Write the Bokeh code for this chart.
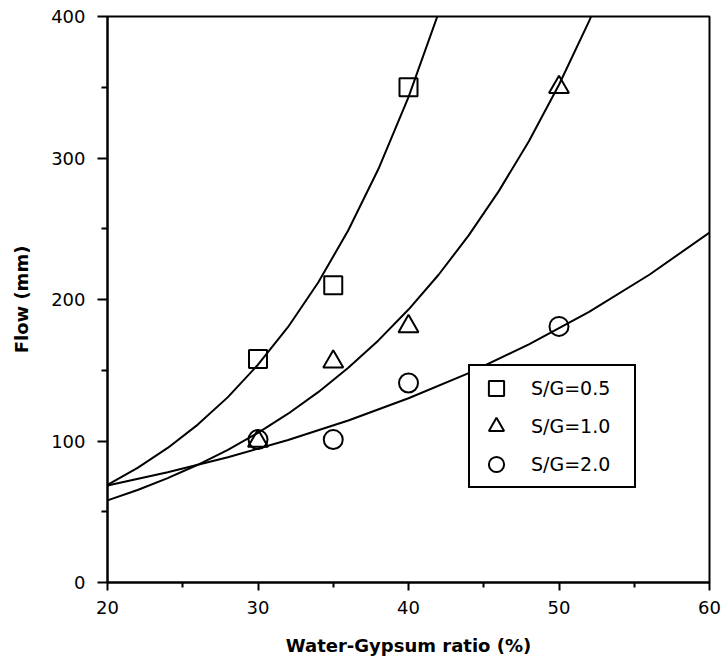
from bokeh.plotting import figure
from bokeh.models import FixedTicker, Range1d, Legend, LegendItem
from bokeh.embed import file_html
from bokeh.resources import INLINE

# Measured points
sq_x = [30, 35, 40]
sq_y = [158, 210, 350]
tri_x = [30, 35, 40, 50]
tri_y = [100, 156, 181, 350]
cir_x = [30, 35, 40, 50]
cir_y = [101, 101, 141, 181]

# Fitted curves
fit1_x = [20, 22, 24, 26, 28, 30, 32, 34, 36, 38, 40, 42, 44]
fit1_y = [69.0, 81.0, 95.1, 111.6, 131.0, 153.9, 180.6, 212.0, 248.9, 292.2, 343.0, 402.6, 472.0]
fit2_x = [20, 22, 24, 26, 28, 30, 32, 34, 36, 38, 40, 42, 44, 46, 48, 50, 52, 54]
fit2_y = [58.0, 65.4, 73.8, 83.2, 93.8, 105.8, 119.3, 134.5, 151.7, 171.1, 192.9, 217.5, 245.3, 276.6, 311.9, 351.8, 396.7, 447.4]
fit3_x = [20, 24, 28, 32, 36, 40, 44, 48, 52, 56, 60]
fit3_y = [68.5, 77.9, 88.5, 100.7, 114.5, 130.2, 148.0, 168.3, 191.3, 217.5, 247.3]

x_ticks = [20, 30, 40, 50, 60]
x_minor = [25, 35, 45, 55]
y_ticks = [0, 100, 200, 300, 400]
y_minor = [50, 150, 250, 350]

labels = ["S/G=0.5", "S/G=1.0", "S/G=2.0"]

p = figure(width=725, height=665, output_backend="svg", toolbar_location=None,
           x_range=Range1d(20, 60), y_range=Range1d(0, 400),
           min_border_left=107, min_border_right=16, min_border_top=16, min_border_bottom=83)

p.grid.visible = False
p.outline_line_color = "black"
p.outline_line_width = 2
p.outline_line_alpha = 1
p.background_fill_color = "white"

FONT = "DejaVu Sans"
for ax in (p.xaxis[0], p.yaxis[0]):
    ax.axis_line_width = 2
    ax.major_tick_line_width = 2
    ax.minor_tick_line_width = 2
    ax.major_tick_in = 0
    ax.minor_tick_in = 0
    ax.major_label_text_font = FONT
    ax.major_label_text_font_size = "18px"
    ax.major_label_text_color = "black"
    ax.axis_label_text_font = FONT
    ax.axis_label_text_font_style = "bold"
    ax.axis_label_text_font_size = "18px"
    ax.axis_label_text_color = "black"

p.xaxis.ticker = FixedTicker(ticks=x_ticks, minor_ticks=x_minor)
p.yaxis.ticker = FixedTicker(ticks=y_ticks, minor_ticks=y_minor)
p.xaxis.major_tick_out = 8
p.xaxis.minor_tick_out = 5
p.yaxis.major_tick_out = 10
p.yaxis.minor_tick_out = 6
p.xaxis.major_label_standoff = 10
p.yaxis.major_label_standoff = 12
p.xaxis.axis_label = "Water-Gypsum ratio (%)"
p.yaxis.axis_label = "Flow (mm)"
p.xaxis.axis_label_standoff = 18
p.yaxis.axis_label_standoff = 16

p.line(fit1_x, fit1_y, line_color="black", line_width=2)
p.line(fit2_x, fit2_y, line_color="black", line_width=2)
p.line(fit3_x, fit3_y, line_color="black", line_width=2)

r1 = p.scatter(sq_x, sq_y, marker="square", size=18, fill_alpha=0, line_color="black", line_width=2)
r2 = p.scatter(tri_x, tri_y, marker="triangle", size=20, fill_alpha=0, line_color="black", line_width=2)
r3 = p.scatter(cir_x, cir_y, marker="circle", size=19, fill_alpha=0, line_color="black", line_width=2)

legend = Legend(items=[LegendItem(label=labels[0], renderers=[r1]),
                       LegendItem(label=labels[1], renderers=[r2]),
                       LegendItem(label=labels[2], renderers=[r3])],
                location=(361, 94))
legend.border_line_color = "black"
legend.border_line_width = 2
legend.border_line_alpha = 1
legend.background_fill_color = "white"
legend.background_fill_alpha = 1
legend.label_text_font = FONT
legend.label_text_font_size = "19px"
legend.label_text_color = "black"
legend.glyph_width = 46
legend.glyph_height = 38
legend.label_width = 100
legend.label_standoff = 12
legend.spacing = 0
legend.padding = 3
legend.margin = 0
p.add_layout(legend, "center")

open("out.html", "w").write(file_html(p, INLINE))
